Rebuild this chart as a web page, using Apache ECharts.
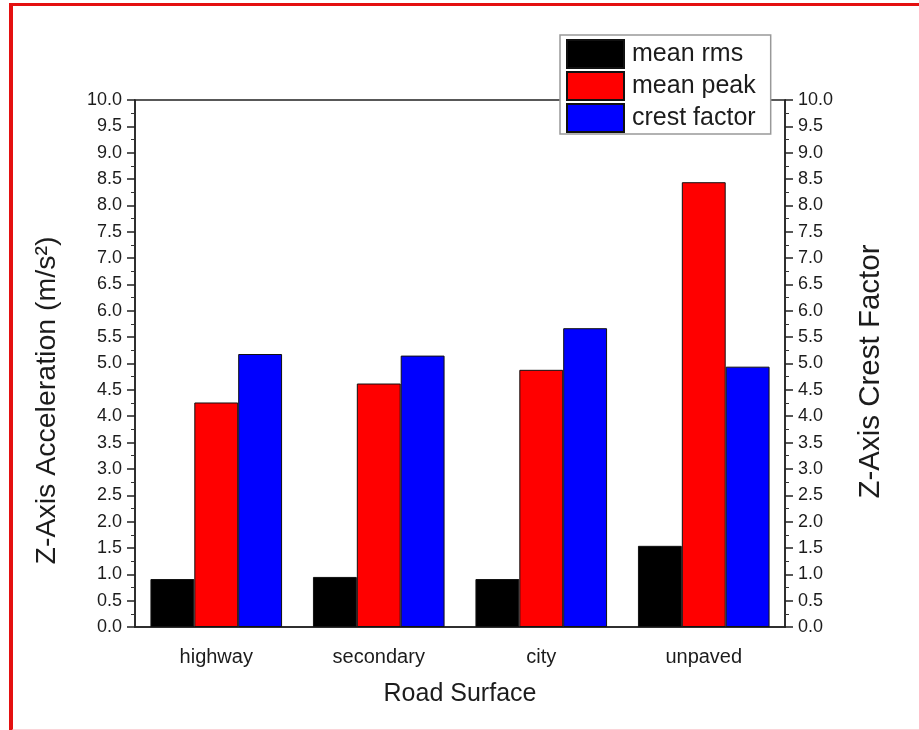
<!DOCTYPE html>
<html>
<head>
<meta charset="utf-8">
<script src="https://cdn.jsdelivr.net/npm/echarts@6/dist/echarts.min.js"></script>
<style>
  html, body { margin: 0; padding: 0; background: #fff; }
  #wrap { position: relative; width: 919px; height: 730px; overflow: hidden; }
  #frame {
    position: absolute; left: 9px; top: 3px; width: 920px; height: 723px;
    border-left: 4px solid #e41010; border-top: 3px solid #e41010;
    border-bottom: 4px solid #fbd3d8; pointer-events: none; z-index: 2;
  }
  #chart { position: absolute; left: 0; top: 0; width: 919px; height: 730px; }
</style>
</head>
<body>
<div id="wrap">
  <div id="chart"></div>
  <div id="frame"></div>
</div>
<script>
// Road surface vibration summary
const categories = ['highway', 'secondary', 'city', 'unpaved'];
const meanRms = [0.91, 0.95, 0.91, 1.54];
const meanPeak = [4.26, 4.62, 4.88, 8.44];
const crestFactor = [5.18, 5.15, 5.67, 4.94];

const FONT = '"Liberation Sans", Arial, sans-serif';
const INK = '#1c1c1c';

function valueAxis(side, title, titleSize, titlePad) {
  return {
    type: 'value',
    position: side,
    min: 0,
    max: 10,
    interval: 0.5,
    name: title,
    nameLocation: 'middle',
    nameRotate: 90,
    nameGap: side === 'left' ? 73 : 71,
    nameTextStyle: { fontFamily: FONT, fontSize: titleSize, color: INK, padding: titlePad },
    axisLine: { show: true, lineStyle: { color: '#222', width: 1.5 } },
    axisTick: { show: true, inside: false, length: 8, lineStyle: { color: '#222', width: 1.5 } },
    minorTick: { show: true, splitNumber: 2, length: 4, lineStyle: { color: '#333', width: 1 } },
    axisLabel: {
      margin: 13,
      fontFamily: FONT, fontSize: 18, color: INK,
      formatter: v => v.toFixed(1)
    },
    splitLine: { show: false }
  };
}

const barEdge = { borderColor: '#111', borderWidth: 1 };

const option = {
  animation: false,
  backgroundColor: '#fff',
  grid: {
    left: 135, right: 134, top: 100, bottom: 103,
    show: true, borderColor: '#222', borderWidth: 1.5, backgroundColor: 'transparent'
  },
  legend: {
    orient: 'vertical',
    left: 560, top: 35,
    itemWidth: 57, itemHeight: 28, itemGap: 2,
    padding: [4, 15, 1, 6],
    backgroundColor: '#fff',
    borderColor: '#999', borderWidth: 1.5,
    icon: 'rect',
    z: 20,
    textStyle: { fontFamily: FONT, fontSize: 25, lineHeight: 28, color: INK, padding: [0, 0, 0, 3] },
    data: ['mean rms', 'mean peak', 'crest factor']
  },
  xAxis: {
    type: 'category',
    data: categories,
    name: 'Road Surface',
    nameLocation: 'middle',
    nameGap: 55,
    nameTextStyle: { fontFamily: FONT, fontSize: 25, color: INK },
    axisLine: { lineStyle: { color: '#222', width: 1.5 } },
    axisTick: { alignWithLabel: true, length: 8, lineStyle: { color: '#222', width: 1.5 } },
    axisLabel: { margin: 20, fontFamily: FONT, fontSize: 20, color: INK }
  },
  yAxis: [
    valueAxis('left', 'Z-Axis Acceleration (m/s²)', 28.5, [0, 74, 0, 0]),
    valueAxis('right', 'Z-Axis Crest Factor', 29.5, [0, 16, 0, 0])
  ],
  series: [
    {
      name: 'mean rms', type: 'bar', yAxisIndex: 0, data: meanRms,
      barGap: '0%', barCategoryGap: '19%',
      itemStyle: Object.assign({ color: '#000000' }, barEdge)
    },
    {
      name: 'mean peak', type: 'bar', yAxisIndex: 0, data: meanPeak,
      barGap: '0%', barCategoryGap: '19%',
      itemStyle: Object.assign({ color: '#ff0000' }, barEdge)
    },
    {
      name: 'crest factor', type: 'bar', yAxisIndex: 1, data: crestFactor,
      barGap: '0%', barCategoryGap: '19%',
      itemStyle: Object.assign({ color: '#0000ff' }, barEdge)
    }
  ]
};

const chart = echarts.init(document.getElementById('chart'), null, { renderer: 'canvas' });
chart.setOption(option);
</script>
</body>
</html>
